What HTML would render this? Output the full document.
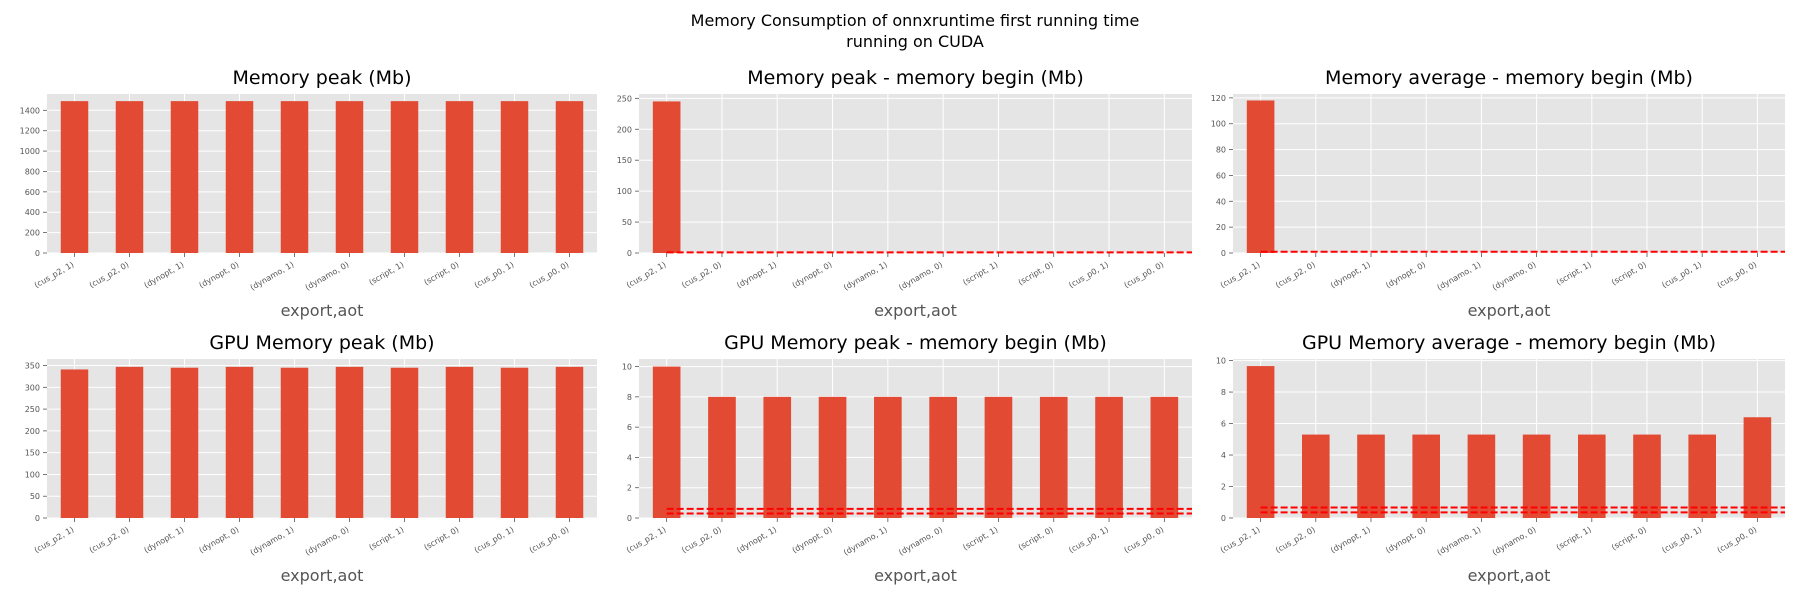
<!DOCTYPE html>
<html><head><meta charset="utf-8"><style>
body{margin:0;background:#fff;}
svg{display:block;font-family:"DejaVu Sans","Liberation Sans",sans-serif;}
</style></head><body>
<svg id="chart" width="1800" height="600" xmlns="http://www.w3.org/2000/svg">
<text x="915" y="26" text-anchor="middle" font-size="16" fill="#000">Memory Consumption of onnxruntime first running time</text>
<text x="915" y="47" text-anchor="middle" font-size="16" fill="#000">running on CUDA</text>
</svg>
<script>
const categories = ["(cus_p2, 1)","(cus_p2, 0)","(dynopt, 1)","(dynopt, 0)","(dynamo, 1)","(dynamo, 0)","(script, 1)","(script, 0)","(cus_p0, 1)","(cus_p0, 0)"];
const memPeak = [1490,1490,1490,1490,1490,1490,1490,1490,1490,1490];
const memPeakBegin = [245,0,0,0,0,0,0,0,0,0];
const memAvgBegin = [118,0,0,0,0,0,0,0,0,0];
const gpuPeak = [341,347,345,347,345,347,345,347,345,347];
const gpuPeakBegin = [10,8,8,8,8,8,8,8,8,8];
const gpuAvgBegin = [9.65,5.3,5.3,5.3,5.3,5.3,5.3,5.3,5.3,6.4];
const titles = ["Memory peak (Mb)","Memory peak - memory begin (Mb)","Memory average - memory begin (Mb)","GPU Memory peak (Mb)","GPU Memory peak - memory begin (Mb)","GPU Memory average - memory begin (Mb)"];
const yMaxes = [1560,257,123,365,10.5,10.1];
const yTicks = [[0,200,400,600,800,1000,1200,1400],[0,50,100,150,200,250],[0,20,40,60,80,100,120],[0,50,100,150,200,250,300,350],[0,2,4,6,8,10],[0,2,4,6,8,10]];
const hLines = [[],[1],[1],[],[0.3,0.6],[0.36,0.67]];
const series = [memPeak,memPeakBegin,memAvgBegin,gpuPeak,gpuPeakBegin,gpuAvgBegin];

const svg = document.getElementById('chart');
const NS = 'http://www.w3.org/2000/svg';
function mk(tag, attrs, parent){const e=document.createElementNS(NS,tag);for(const k in attrs)e.setAttribute(k,attrs[k]);(parent||svg).appendChild(e);return e;}
const lefts=[47,639,1233], rights=[597,1192,1785], tops=[94,359], bottoms=[253,518];
for(let p=0;p<6;p++){
  const col=p%3,row=Math.floor(p/3);
  const L=lefts[col],R=rights[col],T=tops[row],B=bottoms[row];
  const n=categories.length, step=(R-L)/n;
  const xS=i=>L+(i+0.5)*step;
  const yS=v=>B-(v/yMaxes[p])*(B-T);
  const g=mk('g',{});
  
  
  const bg=mk('rect',{x:L,y:T,width:R-L,height:B-T,fill:'#E5E5E5'},g);
  
  
  yTicks[p].forEach(t=>{
    const y=yS(t);
    mk('line',{x1:L,x2:R,y1:y,y2:y,stroke:'#fff','stroke-width':1},g);
    mk('line',{x1:L-4,x2:L,y1:y,y2:y,stroke:'#555','stroke-width':0.8},g);
    const tl=mk('text',{x:L-7,y:y+3,'text-anchor':'end','font-size':8,fill:'#555'},g);
    tl.textContent=t;
    
    
  });
  categories.forEach((c,i)=>{
    const x=xS(i);
    mk('line',{x1:x,x2:x,y1:T,y2:B,stroke:'#fff','stroke-width':1},g);
    mk('line',{x1:x,x2:x,y1:B,y2:B+4,stroke:'#555','stroke-width':0.8},g);
    const tl=mk('text',{x:x,y:B+13,'text-anchor':'end','font-size':8,fill:'#555',transform:`rotate(-30 ${x} ${B+13})`},g);
    tl.textContent=c;
    
    
  });
  series[p].forEach((v,i)=>{
    const bw=step*0.5;
    const r=mk('rect',{x:xS(i)-bw/2,y:yS(v),width:bw,height:B-yS(v),fill:'#E24A33'},g);
    
    
  });
  hLines[p].forEach(h=>{
    const ln=mk('line',{x1:xS(0),x2:R,y1:yS(h),y2:yS(h),stroke:'#ff0000','stroke-width':2,'stroke-dasharray':'7,3'},g);
    
    
  });
  const tt=mk('text',{x:(L+R)/2,y:T-10,'text-anchor':'middle','font-size':19,fill:'#000'},g);
  tt.textContent=titles[p];
  
  
  const xl=mk('text',{x:(L+R)/2,y:B+63,'text-anchor':'middle','font-size':16,fill:'#555'},g);
  xl.textContent='export,aot';
  
  
}
</script>
</body></html>
